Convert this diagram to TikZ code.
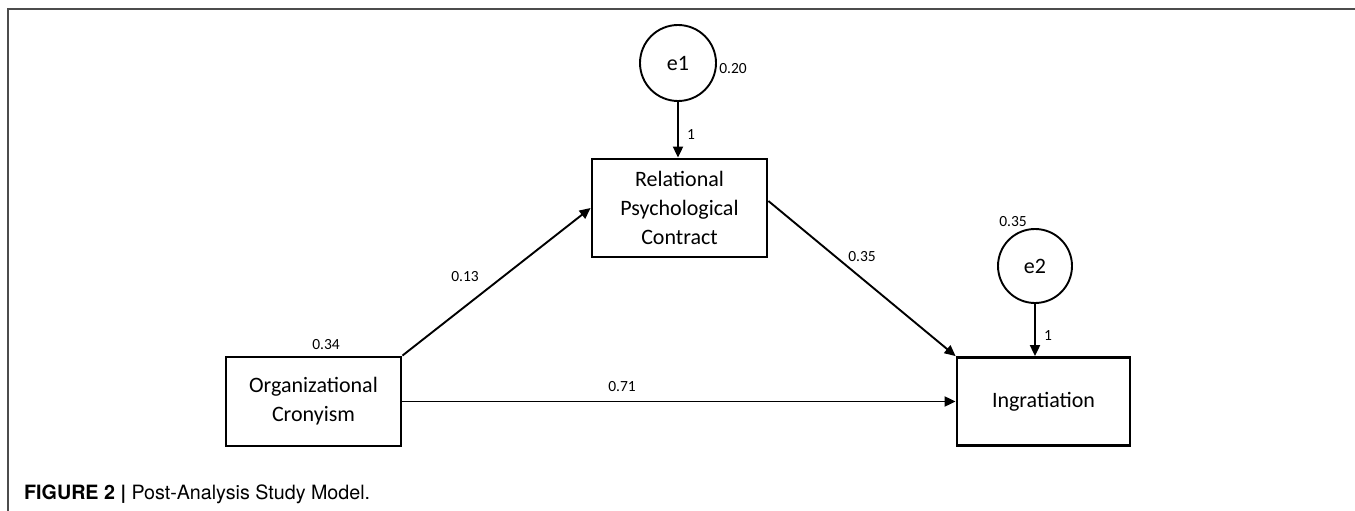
\documentclass[tikz,border=0pt]{standalone}
\usepackage{fontspec}
\setmainfont{Carlito}
\newfontfamily\capfont{TeX Gyre Heros}
\usetikzlibrary{arrows.meta}
\begin{document}
\begin{tikzpicture}[x=1pt,y=-1pt,
  box/.style={draw,line width=2.8pt,rectangle,inner sep=0pt,align=center,font=\fontsize{22}{29}\selectfont},
  err/.style={draw,line width=1.9pt,circle,inner sep=0pt,font=\fontsize{22}{26}\selectfont},
  path/.style={line width=1.9pt,-{Triangle[length=11pt,width=10pt]}},
  lbl/.style={font=\fontsize{15.5}{18}\selectfont,inner sep=0pt},
  frame/.style={draw=black!70,line width=1.4pt}]
\useasboundingbox (0,0) rectangle (1355,511);
\draw[frame] (1355,9) -- (8,9) -- (8,511);
\node[err,minimum size=76pt] (e1) at (678,63) {e1};
\node[err,minimum size=74pt] (e2) at (1035,266) {e2};
\node[box,minimum width=175pt,minimum height=98pt] (rpc) at (679.5,208) {Relational\\Psychological\\Contract};
\node[box,minimum width=175pt,minimum height=89pt] (oc) at (313.5,401.5) {Organizational\\Cronyism};
\node[box,minimum width=173pt,minimum height=88pt] (ing) at (1043.5,401.5) {Ingratiation};
\draw[path] (e1.south) -- (e1.south |- rpc.north);
\draw[path] (e2.south) -- (e2.south |- ing.north);
\draw[path] (oc.north east) -- (rpc.west);
\draw[path] ([yshift=7pt]rpc.east) -- (ing.north west);
\draw[path] (oc.east) -- (ing.west);
\node[lbl] (l1) at (733,69) {0.20};
\node[lbl] (l2) at (691,135) {1};
\node[lbl] (l3) at (465,277) {0.13};
\node[lbl] (l4) at (862,257) {0.35};
\node[lbl] (l5) at (326,345) {0.34};
\node[lbl] (l6) at (622,387) {0.71};
\node[lbl] (l7) at (1013,222) {0.35};
\node[lbl] (l8) at (1048,336) {1};
\node[anchor=west,inner sep=0pt,font=\capfont\fontsize{19.7}{22}\selectfont] (cap) at (24,494) {\textbf{FIGURE 2} {\bfseries|} Post-Analysis Study Model.};
\end{tikzpicture}
\end{document}
